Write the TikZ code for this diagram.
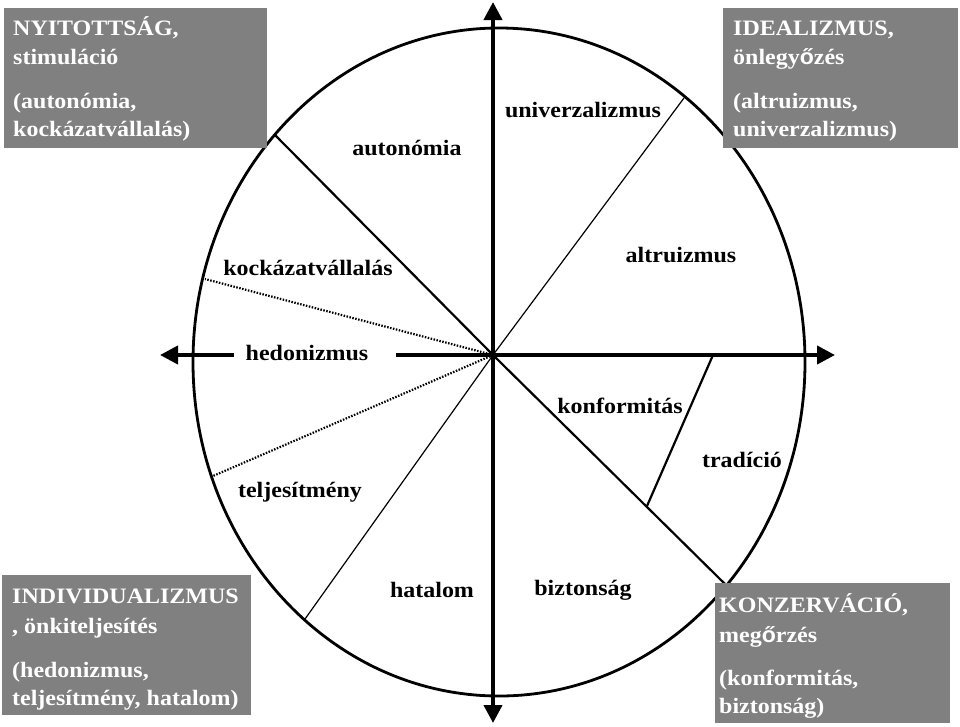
\documentclass[tikz,border=0pt]{standalone}
\usepackage{fontspec}
\setmainfont{Liberation Serif}[FakeStretch=1.09]
\newfontfamily\osans{Liberation Sans}[FakeStretch=1.05]
\usetikzlibrary{arrows.meta}
\definecolor{boxgray}{RGB}{128,128,128}
\begin{document}
\begin{tikzpicture}[x=1pt,y=-1pt,
  lab/.style={font=\fontsize{22}{26}\selectfont\bfseries, inner sep=0pt, anchor=base},
  boxtxt/.style={font=\fontsize{22}{26}\selectfont\bfseries, text=white, inner sep=0pt, anchor=base west},
  graybox/.style={fill=boxgray, draw=none},
  axis/.style={line width=4pt},
  tip/.style={-{Triangle[length=18pt,width=18pt]}},
  sector/.style={line width=2.2pt},
  thinsector/.style={line width=1.2pt},
  dotsector/.style={line width=2.2pt, dash pattern=on 1.5pt off 1.5pt}]
\useasboundingbox (0,0) rectangle (960,726);
% ellipse
\draw[line width=2.8pt] (499,362) ellipse [x radius=306pt, y radius=334pt];
% centre and endpoints
\coordinate (O) at (493,355);
\coordinate (eAut) at (274,134);
\coordinate (eKock) at (205,279);
\coordinate (eUniv) at (684,98);
\coordinate (eTelj) at (213,476);
\coordinate (eHat) at (305,619);
\coordinate (eKonz) at (726,585);
\coordinate (tA) at (713,355);
\coordinate (tB) at (647,506);
\coordinate (top) at (493,2);
\coordinate (bot) at (493,723);
\coordinate (lft) at (160,355);
\coordinate (lgap) at (234,355);
\coordinate (rgap) at (396,355);
\coordinate (rgt) at (835,355);
% sector lines
\draw[sector] (O) -- (eAut);
\draw[dotsector] (O) -- (eKock);
\draw[thinsector] (O) -- (eUniv);
\draw[dotsector] (O) -- (eTelj);
\draw[thinsector] (O) -- (eHat);
\draw[sector] (O) -- (eKonz);
\draw[sector] (tA) -- (tB);
% axes
\draw[axis,tip] (O) -- (top);
\draw[axis,tip] (O) -- (bot);
\draw[axis,tip] (lgap) -- (lft);
\draw[axis,tip] (rgap) -- (rgt);
% boxes
\node[graybox, anchor=north west, minimum width=263pt, minimum height=140pt, inner sep=0pt] (boxTL) at (4,8) {};
\node[graybox, anchor=north west, minimum width=235pt, minimum height=140pt, inner sep=0pt] (boxTR) at (723,8) {};
\node[graybox, anchor=north west, minimum width=249pt, minimum height=140pt, inner sep=0pt] (boxBL) at (2,575) {};
\node[graybox, anchor=north west, minimum width=235pt, minimum height=140pt, inner sep=0pt] (boxBR) at (715,583) {};
% box texts
\node[boxtxt] (tl1) at (13,35) {NYITOTTSÁG,};
\node[boxtxt] (tl2) at (13,64) {stimuláció};
\node[boxtxt] (tl3) at (13,108) {(autonómia,};
\node[boxtxt] (tl4) at (13,136) {kockázatvállalás)};
\node[boxtxt] (tr1) at (733,35) {IDEALIZMUS,};
\node[boxtxt] (tr2) at (733,64) {önlegy{\osans ő}zés};
\node[boxtxt] (tr3) at (733,108) {(altruizmus,};
\node[boxtxt] (tr4) at (733,136) {univerzalizmus)};
\node[boxtxt] (bl1) at (12,603) {INDIVIDUALIZMUS};
\node[boxtxt] (bl2) at (12,633) {, önkiteljesítés};
\node[boxtxt] (bl3) at (12,677) {(hedonizmus,};
\node[boxtxt] (bl4) at (12,705) {teljesítmény, hatalom)};
\node[boxtxt] (br1) at (719,612) {KONZERVÁCIÓ,};
\node[boxtxt] (br2) at (719,642) {meg{\osans ő}rzés};
\node[boxtxt] (br3) at (719,685) {(konformitás,};
\node[boxtxt] (br4) at (719,713) {biztonság)};
% sector labels
\node[lab] (lAut) at (407,155) {autonómia};
\node[lab] (lUniv) at (583,117) {univerzalizmus};
\node[lab] (lKock) at (308,275) {kockázatvállalás};
\node[lab] (lAltr) at (681,262) {altruizmus};
\node[lab] (lHed) at (307,360) {hedonizmus};
\node[lab] (lKonf) at (620,413) {konformitás};
\node[lab] (lTrad) at (742,467) {tradíció};
\node[lab] (lTelj) at (300,497) {teljesítmény};
\node[lab] (lHat) at (432,597) {hatalom};
\node[lab] (lBizt) at (583,595) {biztonság};
\end{tikzpicture}
\end{document}
